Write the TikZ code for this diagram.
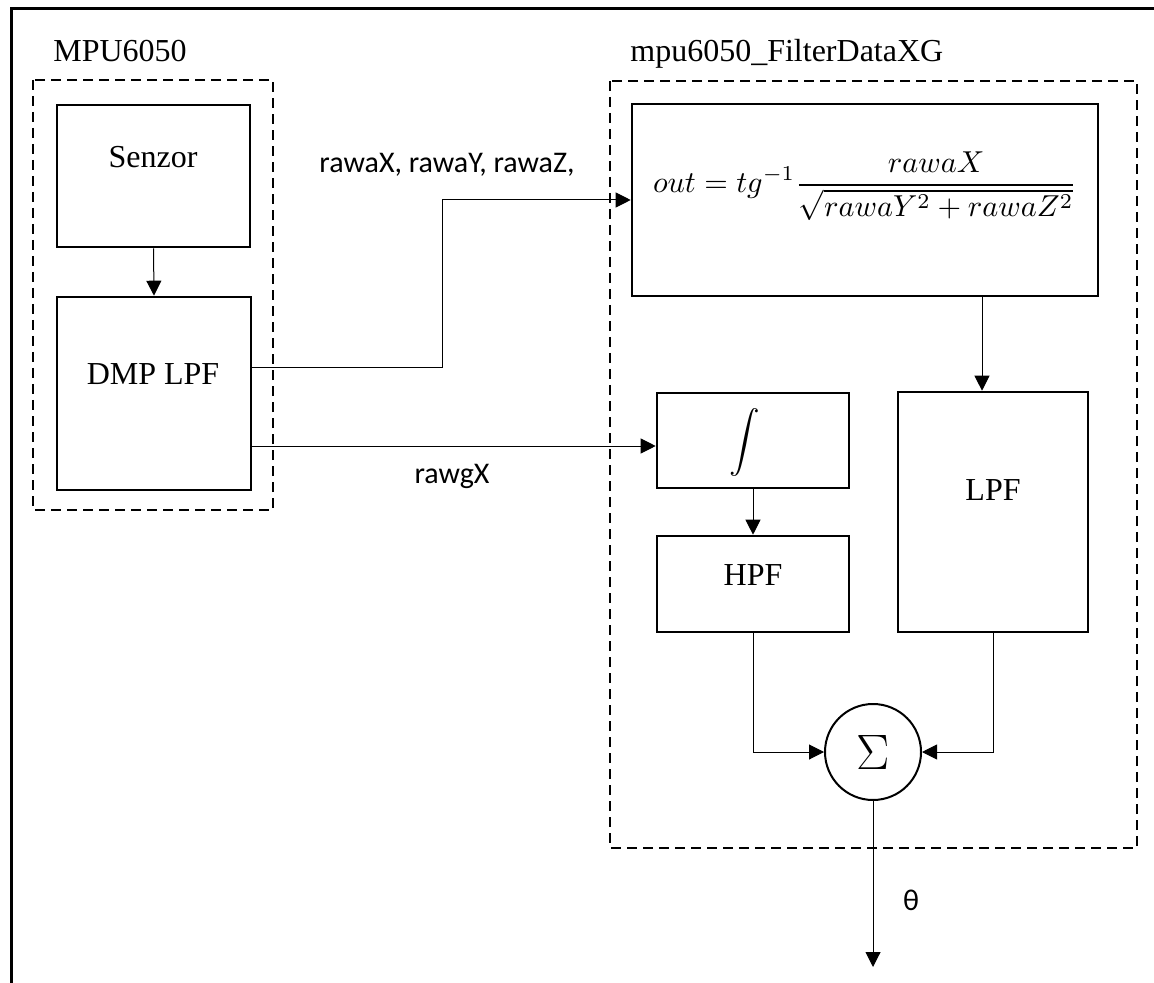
\documentclass[tikz,border=0pt]{standalone}
\usepackage{fontspec}
\setmainfont{Liberation Serif}
\newfontfamily\calibri{Carlito}
\usepackage{graphicx}
\usetikzlibrary{arrows.meta}
\tikzset{blok/.style={draw, line width=1.3pt, inner sep=0pt}}
\tikzset{grupa/.style={draw, line width=1pt, dash pattern=on 5pt off 3pt}}
\tikzset{arr/.style={line width=0.5pt, -{Triangle[length=7.5pt, width=7.5pt]}}}
\tikzset{serif/.style={font=\fontsize{16}{19}\selectfont, inner sep=0pt}}
\tikzset{sans/.style={font=\calibri\fontsize{15}{18}\selectfont, inner sep=0pt}}

\begin{document}
\begin{tikzpicture}[x=0.5pt, y=-0.5pt]
            \useasboundingbox (0,0) rectangle (1154,983);
            \draw[line width=1.5pt] (11,983) -- (11,9) -- (1154,9);
            % groups
            \draw[grupa] (33,80) rectangle (273,510);
            \draw[grupa] (610,81) rectangle (1137,848);
            \node[serif, anchor=base west] (mpu) at (53,62) {MPU6050};
            \node[serif, anchor=base west] (filt) at (630,62) {mpu6050\_FilterDataXG};
            % blocks
            \node[blok, minimum width=96.5pt, minimum height=71pt] (senzor) at (153.5,176) {};
            \node[serif, anchor=base] (senzorT) at (153,168) {Senzor};
            \node[blok, minimum width=97pt, minimum height=96.5pt] (dmp) at (154,393.5) {};
            \node[serif, anchor=base] (dmpT) at (153,385) {DMP LPF};
            \node[blok, minimum width=233pt, minimum height=96pt] (formula) at (865,200) {};
            \node[inner sep=0pt] (formulaT) at (865,186) {\resizebox{212pt}{!}{$\displaystyle out=tg^{-1}\frac{rawaX}{\sqrt{rawaY^2+rawaZ^2}}$}};
            \node[blok, minimum width=96pt, minimum height=47.5pt] (integ) at (753,440.5) {};
            \node[inner sep=0pt] (integT) at (745,443) {\resizebox*{!}{34pt}{$\displaystyle\int$}};
            \node[blok, minimum width=96pt, minimum height=48pt] (hpf) at (753,584) {};
            \node[serif, anchor=base] (hpfT) at (753,585) {HPF};
            \node[blok, minimum width=95pt, minimum height=120pt] (lpf) at (993,512) {};
            \node[serif, anchor=base] (lpfT) at (993,500) {LPF};
            \node[draw, circle, line width=1pt, minimum size=48pt, inner sep=0pt, font=\fontsize{23}{27}\selectfont] (sum) at (873,752) {$\Sigma$};
            \coordinate (out) at (873,967);
            % signals
            \draw[arr] (senzor.south) -- (dmp.north);
            \draw[arr] (dmp.east |- 0,368) -- (442,368) |- (formula.west);
            \draw[arr] (dmp.east |- 0,446) -- (integ.west |- 0,446);
            \draw[arr] (integ.south) -- (hpf.north);
            \draw[arr] (formula.south -| 982,0) -- (lpf.north -| 982,0);
            \draw[arr] (hpf.south) |- (sum.west);
            \draw[arr] (lpf.south) |- (sum.east);
            \draw[arr] (sum.south) -- (out);
            \node[sans, anchor=base] (aLbl) at (447,173) {rawaX, rawaY, rawaZ,};
            \node[sans, anchor=base] (gLbl) at (452,483) {rawgX};
            \node[sans, anchor=base] (theta) at (911,910) {θ};
        \end{tikzpicture}
\end{document}
